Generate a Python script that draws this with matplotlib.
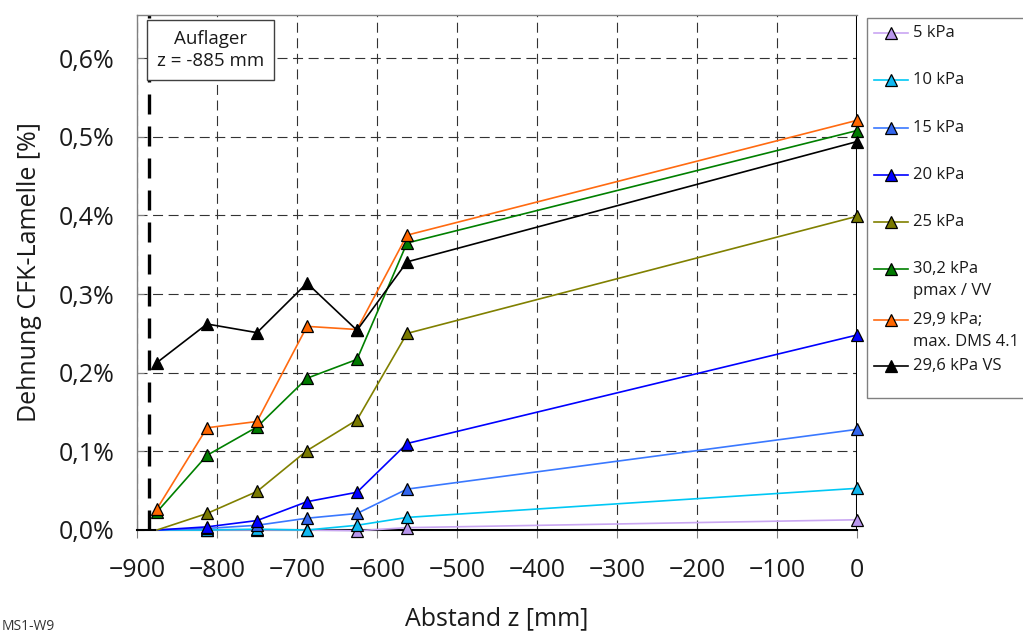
import numpy as np
import matplotlib.pyplot as plt
from matplotlib.lines import Line2D
from matplotlib.patches import Rectangle

plt.rcParams['font.family'] = ['Open Sans', 'DejaVu Sans']

# Messpositionen entlang der Lamelle
z = [-875, -812.5, -750, -687.5, -625, -562.5, 0]

# Dehnung CFK-Lamelle [%] je Laststufe
eps_5 = [0.0, 0.0, 0.0, 0.0, -0.001, 0.003, 0.013]
eps_10 = [0.0, 0.0, 0.001, 0.0, 0.006, 0.016, 0.053]
eps_15 = [0.0, 0.002, 0.006, 0.015, 0.021, 0.052, 0.128]
eps_20 = [0.0, 0.004, 0.012, 0.036, 0.048, 0.110, 0.248]
eps_25 = [0.0, 0.021, 0.049, 0.101, 0.140, 0.250, 0.399]
eps_302 = [0.023, 0.095, 0.131, 0.193, 0.217, 0.365, 0.508]
eps_299 = [0.027, 0.130, 0.138, 0.259, 0.255, 0.375, 0.521]
eps_296 = [0.213, 0.262, 0.251, 0.314, 0.254, 0.341, 0.494]

labels = ['5 kPa', '10 kPa', '15 kPa', '20 kPa', '25 kPa',
          '30,2 kPa\npmax / VV', '29,9 kPa;\nmax. DMS 4.1', '29,6 kPa VS']
series = [eps_5, eps_10, eps_15, eps_20, eps_25, eps_302, eps_299, eps_296]
line_cols = ['#c9a6f2', '#00c8f5', '#3a78ff', '#0000ff', '#808000',
             '#008000', '#ff6a10', '#000000']
face_cols = ['#b896ec', '#10b8f0', '#3366ee', '#0000ff', '#7a7a00',
             '#007a00', '#ff6600', '#000000']
# erste Messstelle ohne Marker bei den niedrigen Laststufen
first_marker = [1, 1, 1, 1, 1, 0, 0, 0]

z_auflager = -885

W, H = 1023, 635
fig = plt.figure(figsize=(W / 100, H / 100), dpi=100)
ax = fig.add_axes([137/W, 1 - 530/H, 720/W, 515/H])

for eps, lab, lc, fc, m0 in zip(series, labels, line_cols, face_cols, first_marker):
    ax.plot(z, eps, color=lc, lw=1.2, marker='^', markersize=9,
            markerfacecolor=fc, markeredgecolor='black', markeredgewidth=0.9,
            markevery=list(range(m0, len(z))), label=lab, clip_on=False, zorder=3)

# Auflagerlinie und Feldmitte
ax.axvline(z_auflager, color='black', lw=2.4, dashes=(6.0, 3.6), zorder=2)
ax.axvline(0, color='black', lw=2.2, zorder=2)

ax.set_xlim(-900, 0)
ax.set_ylim(0, 0.655)
ax.set_xticks(np.arange(-900, 1, 100))
yt = np.arange(0, 0.61, 0.1)
ax.set_yticks(yt)
ax.set_yticklabels([f'{v:.1f}%'.replace('.', ',') for v in yt])
ax.tick_params(axis='x', direction='out', length=6, color='#808080',
               labelsize=18, labelcolor='#1a1a1a', pad=14)
ax.tick_params(axis='y', direction='in', length=5, color='#808080',
               labelsize=18, labelcolor='#1a1a1a', pad=16)

ax.grid(True, color='#333333', lw=0.8, linestyle=(0, (9, 5)))
ax.set_axisbelow(True)
for s in ['left', 'top']:
    ax.spines[s].set_color('#808080')
    ax.spines[s].set_linewidth(1.0)
ax.spines['right'].set_visible(False)
ax.spines['bottom'].set_color('black')
ax.spines['bottom'].set_linewidth(1.5)
ax.spines['bottom'].set_zorder(2.5)

ax.set_xlabel('Abstand z [mm]', fontsize=18, color='#1a1a1a', labelpad=17)
ax.set_ylabel('Dehnung CFK-Lamelle [%]', fontsize=18, color='#1a1a1a', labelpad=12)

ax.text(0.102, 0.932, 'Auflager\nz = -885 mm', transform=ax.transAxes,
        ha='center', va='center', fontsize=13.5, color='#1a1a1a', linespacing=1.25,
        bbox=dict(boxstyle='square,pad=0.55', fc='white', ec='#404040', lw=1.0),
        zorder=5)

# Legende rechts neben dem Diagramm (Zeilen in Pixeln von oben)
leg_rows = [33, 80, 128, 175, 222, 269, 320, 366]
fig.patches.append(Rectangle((867/W, 1 - 398/H), 170/W, 380/H, transform=fig.transFigure,
                             fc='white', ec='#808080', lw=1.0, clip_on=False))
for lab, lc, fc, row in zip(labels, line_cols, face_cols, leg_rows):
    yf = 1 - row / H
    fig.add_artist(Line2D([874/W, 891/W, 908/W], [yf, yf, yf], transform=fig.transFigure,
                          color=lc, lw=1.2, marker='^', markersize=9, markevery=[1],
                          markerfacecolor=fc, markeredgecolor='black',
                          markeredgewidth=0.9))
    for k, part in enumerate(lab.split('\n')):
        fig.text(913/W, 1 - (row + 22 * k) / H, part, fontsize=12,
                 color='#1a1a1a', va='center', ha='left')

fig.text(0.002, 0.008, 'MS1-W9', fontsize=10, color='#333333')

fig.savefig('out.png', dpi=100)
